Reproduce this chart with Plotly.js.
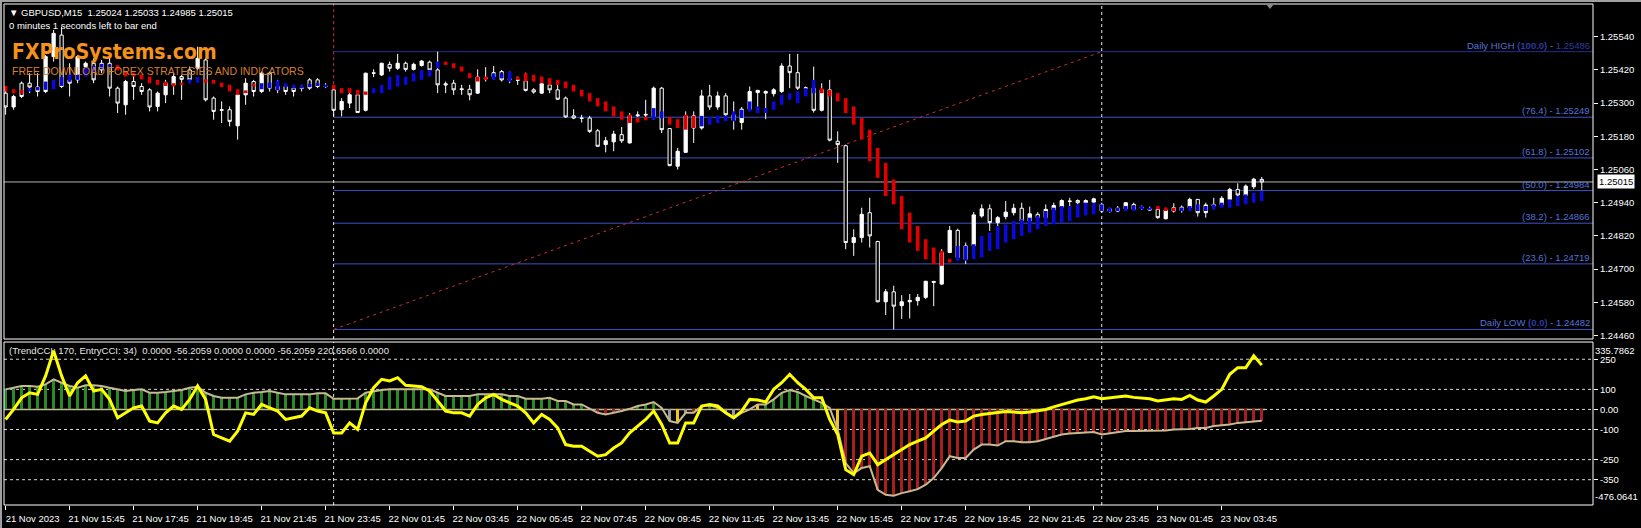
<!DOCTYPE html>
<html><head><meta charset="utf-8">
<script src="https://cdn.plot.ly/plotly-3.0.1.min.js"></script>
<style>html,body{margin:0;padding:0;background:#000;}#chart{width:1641px;height:528px;}</style>
</head><body><div id="chart"></div>
<script>
// ---------- DATA ----------
const headerText = '\u25BC\u00A0GBPUSD,M15\u00A0\u00A01.25024 1.25033 1.24985 1.25015';
const timerText = '0 minutes 1 seconds left to bar end';
const indicatorText = '(TrendCCI: 170, EntryCCI: 34)\u00A0\u00A00.0000 -56.2059 0.0000 0.0000 -56.2059 220.6566 0.0000';
const labelBars = [0,8,16,24,32,40,48,56,64,72,80,88,96,104,112,120,128,136,144,152];
const timeLabels = ['21 Nov 2023','21 Nov 15:45','21 Nov 17:45','21 Nov 19:45','21 Nov 21:45','21 Nov 23:45',
  '22 Nov 01:45','22 Nov 03:45','22 Nov 05:45','22 Nov 07:45','22 Nov 09:45','22 Nov 11:45','22 Nov 13:45',
  '22 Nov 15:45','22 Nov 17:45','22 Nov 19:45','22 Nov 21:45','22 Nov 23:45','23 Nov 01:45','23 Nov 03:45'];
const daySeparators = [41, 137];

const openP = [1.25336,1.25286,1.25372,1.25372,1.25358,1.25342,1.25468,1.25546,1.25384,1.25384,
 1.25432,1.25444,1.25420,1.25444,1.25354,1.25294,1.25378,1.25360,1.25348,1.25288,
 1.25330,1.25366,1.25396,1.25420,1.25426,1.25456,1.25318,1.25274,1.25276,1.25218,
 1.25330,1.25378,1.25342,1.25408,1.25348,1.25360,1.25354,1.25353,1.25384,1.25384,
 1.25362,1.25348,1.25276,1.25300,1.25330,1.25274,1.25408,1.25402,1.25440,1.25426,
 1.25444,1.25422,1.25436,1.25448,1.25420,1.25370,1.25372,1.25352,1.25350,1.25336,
 1.25389,1.25396,1.25414,1.25388,1.25384,1.25380,1.25348,1.25336,1.25366,1.25348,
 1.25318,1.25254,1.25246,1.25246,1.25200,1.25150,1.25160,1.25186,1.25156,1.25254,
 1.25257,1.25252,1.25354,1.25208,1.25072,1.25122,1.25254,1.25210,1.25326,1.25286,
 1.25326,1.25258,1.25230,1.25278,1.25338,1.25342,1.25334,1.25342,1.25434,1.25410,
 1.25353,1.25354,1.25274,1.25348,1.25162,1.25146,1.24796,1.24814,1.24904,1.24800,
 1.24582,1.24618,1.24568,1.24582,1.24586,1.24598,1.24652,1.24646,1.24760,1.24840,
 1.24736,1.24784,1.24892,1.24918,1.24868,1.24890,1.24904,1.24920,1.24874,1.24898,
 1.24886,1.24914,1.24924,1.24946,1.24948,1.24940,1.24942,1.24934,1.24918,1.24920,
 1.24918,1.24934,1.24921,1.24918,1.24916,1.24882,1.24922,1.24924,1.24922,1.24952,
 1.24904,1.24934,1.24932,1.24952,1.24988,1.24966,1.24998,1.25024];
const highP = [1.25348,1.25330,1.25378,1.25408,1.25408,1.25474,1.25564,1.25576,1.25444,1.25474,
 1.25450,1.25462,1.25456,1.25474,1.25360,1.25384,1.25408,1.25372,1.25354,1.25342,
 1.25384,1.25408,1.25402,1.25432,1.25504,1.25462,1.25324,1.25306,1.25288,1.25336,
 1.25390,1.25384,1.25414,1.25414,1.25384,1.25366,1.25366,1.25366,1.25390,1.25390,
 1.25372,1.25354,1.25318,1.25348,1.25342,1.25410,1.25422,1.25446,1.25450,1.25478,
 1.25450,1.25446,1.25456,1.25454,1.25486,1.25378,1.25384,1.25366,1.25366,1.25422,
 1.25430,1.25434,1.25420,1.25414,1.25396,1.25410,1.25354,1.25378,1.25384,1.25366,
 1.25324,1.25278,1.25258,1.25254,1.25206,1.25178,1.25200,1.25214,1.25264,1.25270,
 1.25312,1.25360,1.25358,1.25210,1.25138,1.25270,1.25270,1.25348,1.25366,1.25342,
 1.25336,1.25306,1.25286,1.25360,1.25348,1.25346,1.25354,1.25444,1.25478,1.25478,
 1.25360,1.25432,1.25372,1.25384,1.25198,1.25150,1.24844,1.24922,1.24958,1.24802,
 1.24628,1.24640,1.24606,1.24610,1.24610,1.24658,1.24658,1.24772,1.24856,1.24846,
 1.24796,1.24906,1.24934,1.24934,1.24892,1.24946,1.24936,1.24940,1.24926,1.24906,
 1.24934,1.24940,1.24952,1.24958,1.24952,1.24952,1.24958,1.24940,1.24922,1.24928,
 1.24942,1.24940,1.24930,1.24926,1.24926,1.24922,1.24938,1.24930,1.24958,1.24954,
 1.24940,1.24958,1.24964,1.24994,1.25010,1.25006,1.25030,1.25033];
const lowP = [1.25258,1.25276,1.25318,1.25336,1.25324,1.25336,1.25450,1.25354,1.25324,1.25372,
 1.25414,1.25372,1.25408,1.25324,1.25264,1.25258,1.25312,1.25330,1.25270,1.25270,
 1.25300,1.25330,1.25312,1.25372,1.25420,1.25306,1.25240,1.25228,1.25216,1.25168,
 1.25294,1.25324,1.25336,1.25342,1.25336,1.25330,1.25324,1.25342,1.25348,1.25354,
 1.25354,1.25252,1.25252,1.25282,1.25264,1.25270,1.25394,1.25398,1.25414,1.25420,
 1.25414,1.25418,1.25432,1.25414,1.25336,1.25336,1.25330,1.25330,1.25310,1.25334,
 1.25378,1.25384,1.25378,1.25372,1.25366,1.25342,1.25334,1.25334,1.25336,1.25312,
 1.25246,1.25242,1.25230,1.25192,1.25142,1.25122,1.25126,1.25156,1.25154,1.25250,
 1.25250,1.25240,1.25192,1.25072,1.25060,1.25120,1.25156,1.25204,1.25276,1.25276,
 1.25254,1.25204,1.25204,1.25276,1.25278,1.25242,1.25324,1.25336,1.25354,1.25348,
 1.25346,1.25266,1.25270,1.25162,1.25084,1.24772,1.24748,1.24796,1.24778,1.24580,
 1.24534,1.24482,1.24520,1.24522,1.24568,1.24592,1.24566,1.24642,1.24758,1.24736,
 1.24718,1.24782,1.24886,1.24838,1.24856,1.24880,1.24894,1.24868,1.24868,1.24874,
 1.24880,1.24906,1.24918,1.24928,1.24934,1.24934,1.24938,1.24904,1.24904,1.24906,
 1.24914,1.24910,1.24914,1.24910,1.24882,1.24880,1.24904,1.24904,1.24916,1.24890,
 1.24886,1.24916,1.24928,1.24950,1.24958,1.24958,1.24990,1.24985];
const closeP = [1.25286,1.25324,1.25324,1.25358,1.25342,1.25468,1.25552,1.25360,1.25372,1.25468,
 1.25444,1.25384,1.25444,1.25354,1.25300,1.25378,1.25360,1.25342,1.25286,1.25336,
 1.25372,1.25396,1.25386,1.25384,1.25462,1.25312,1.25270,1.25276,1.25234,1.25330,
 1.25372,1.25342,1.25408,1.25354,1.25360,1.25342,1.25342,1.25355,1.25354,1.25360,
 1.25360,1.25274,1.25306,1.25330,1.25266,1.25408,1.25409,1.25444,1.25426,1.25444,
 1.25422,1.25440,1.25452,1.25420,1.25366,1.25366,1.25348,1.25349,1.25330,1.25394,
 1.25391,1.25410,1.25384,1.25385,1.25383,1.25346,1.25340,1.25370,1.25348,1.25314,
 1.25250,1.25246,1.25245,1.25198,1.25144,1.25164,1.25188,1.25164,1.25254,1.25257,
 1.25259,1.25354,1.25204,1.25074,1.25126,1.25254,1.25210,1.25326,1.25286,1.25326,
 1.25258,1.25238,1.25278,1.25342,1.25346,1.25336,1.25348,1.25434,1.25410,1.25354,
 1.25355,1.25274,1.25348,1.25166,1.25150,1.24796,1.24814,1.24898,1.24820,1.24582,
 1.24618,1.24566,1.24582,1.24587,1.24598,1.24656,1.24655,1.24760,1.24840,1.24742,
 1.24784,1.24896,1.24918,1.24868,1.24886,1.24906,1.24920,1.24874,1.24900,1.24886,
 1.24916,1.24930,1.24948,1.24945,1.24940,1.24948,1.24954,1.24910,1.24909,1.24910,
 1.24940,1.24916,1.24923,1.24914,1.24886,1.24914,1.24910,1.24912,1.24952,1.24904,
 1.24932,1.24928,1.24956,1.24988,1.24968,1.25000,1.25025,1.25015];

const haOpen = [1.25362,1.25350,1.25348,1.25342,1.25346,1.25348,1.25350,1.25362,1.25378,1.25384,
 1.25396,1.25410,1.25422,1.25432,1.25437,1.25414,1.25410,1.25404,1.25396,1.25384,
 1.25378,1.25372,1.25374,1.25372,1.25374,1.25386,1.25384,1.25374,1.25366,1.25350,
 1.25346,1.25370,1.25350,1.25354,1.25346,1.25358,1.25353,1.25353,1.25358,1.25362,
 1.25358,1.25366,1.25354,1.25354,1.25348,1.25342,1.25336,1.25336,1.25348,1.25360,
 1.25366,1.25378,1.25384,1.25396,1.25426,1.25450,1.25444,1.25432,1.25408,1.25396,
 1.25396,1.25384,1.25390,1.25378,1.25396,1.25408,1.25402,1.25396,1.25390,1.25384,
 1.25378,1.25366,1.25348,1.25336,1.25318,1.25306,1.25288,1.25270,1.25258,1.25246,
 1.25250,1.25240,1.25246,1.25250,1.25242,1.25258,1.25254,1.25216,1.25222,1.25228,
 1.25234,1.25234,1.25246,1.25270,1.25264,1.25264,1.25276,1.25294,1.25312,1.25300,
 1.25324,1.25336,1.25354,1.25348,1.25336,1.25318,1.25288,1.25246,1.25204,1.25138,
 1.25084,1.25024,1.24964,1.24904,1.24856,1.24808,1.24778,1.24766,1.24736,1.24730,
 1.24730,1.24736,1.24742,1.24766,1.24772,1.24796,1.24808,1.24820,1.24832,1.24844,
 1.24856,1.24862,1.24868,1.24874,1.24886,1.24894,1.24898,1.24910,1.24906,1.24910,
 1.24910,1.24910,1.24916,1.24914,1.24928,1.24922,1.24922,1.24910,1.24910,1.24910,
 1.24910,1.24916,1.24922,1.24922,1.24928,1.24934,1.24940,1.24946];
const haClose = [1.25342,1.25336,1.25334,1.25354,1.25358,1.25378,1.25384,1.25394,1.25406,1.25402,
 1.25430,1.25434,1.25442,1.25439,1.25418,1.25396,1.25396,1.25386,1.25372,1.25366,
 1.25362,1.25360,1.25365,1.25386,1.25394,1.25374,1.25370,1.25358,1.25342,1.25330,
 1.25336,1.25360,1.25372,1.25374,1.25382,1.25372,1.25366,1.25365,1.25370,1.25372,
 1.25367,1.25350,1.25336,1.25336,1.25330,1.25330,1.25354,1.25366,1.25396,1.25402,
 1.25396,1.25408,1.25420,1.25420,1.25450,1.25438,1.25426,1.25414,1.25390,1.25378,
 1.25384,1.25408,1.25408,1.25414,1.25384,1.25378,1.25378,1.25372,1.25366,1.25366,
 1.25354,1.25342,1.25324,1.25306,1.25288,1.25270,1.25252,1.25240,1.25228,1.25230,
 1.25238,1.25282,1.25270,1.25222,1.25210,1.25204,1.25210,1.25254,1.25250,1.25254,
 1.25254,1.25270,1.25276,1.25306,1.25288,1.25282,1.25306,1.25330,1.25336,1.25342,
 1.25354,1.25384,1.25336,1.25324,1.25306,1.25264,1.25222,1.25168,1.25090,1.25030,
 1.24964,1.24934,1.24844,1.24796,1.24766,1.24736,1.24718,1.24712,1.24724,1.24784,
 1.24784,1.24790,1.24820,1.24832,1.24856,1.24862,1.24874,1.24880,1.24886,1.24892,
 1.24910,1.24922,1.24928,1.24928,1.24934,1.24940,1.24940,1.24934,1.24922,1.24922,
 1.24928,1.24930,1.24928,1.24922,1.24916,1.24910,1.24910,1.24922,1.24928,1.24934,
 1.24928,1.24934,1.24940,1.24952,1.24964,1.24970,1.24976,1.24982];

const trendCCI = [100,108,117,117,113,125,150,133,117,108,
 120,120,117,108,100,92,97,100,83,83,
 87,92,97,108,113,83,67,58,58,58,
 75,83,87,92,83,75,75,75,75,80,
 80,53,53,53,55,83,90,97,100,100,
 100,100,100,100,83,67,67,67,67,75,
 75,75,75,67,67,53,53,53,58,42,
 42,25,25,5,-17,-25,-17,-8,3,17,
 25,37,8,-58,-67,-17,-17,17,20,8,
 -17,-42,-17,0,25,25,50,83,97,87,
 67,50,33,8,-100,-267,-317,-292,-283,-400,
 -425,-430,-417,-408,-397,-375,-342,-292,-233,-242,
 -242,-200,-175,-175,-180,-158,-158,-163,-163,-158,
 -147,-137,-125,-120,-117,-113,-113,-125,-120,-113,
 -108,-108,-108,-108,-108,-105,-100,-100,-97,-93,
 -92,-83,-80,-75,-67,-63,-58,-56.2059];
const entryCCI = [-50,0,58,83,75,167,292,167,67,133,
 167,92,100,50,-42,-17,8,17,-58,-67,
 -17,17,0,50,117,50,-125,-142,-158,-108,
 -17,-25,25,8,-8,-50,-42,-33,8,-8,
 -17,-117,-117,-67,-100,33,108,150,142,158,
 120,117,113,92,42,-8,-17,-17,-33,25,
 58,75,50,33,17,-17,-67,-25,-50,-92,
 -175,-183,-183,-208,-233,-225,-192,-167,-117,-83,
 -50,-8,-75,-167,-167,-67,-67,17,25,17,
 -17,-42,-8,50,47,37,100,133,175,133,
 100,58,58,-50,-125,-300,-325,-233,-217,-275,
 -250,-225,-200,-175,-158,-142,-108,-75,-53,-63,
 -58,-33,-25,-20,-17,-10,-13,-17,-13,-8,
 0,13,25,37,47,53,63,53,58,63,
 67,60,58,53,42,47,53,50,70,47,
 37,67,100,175,208,208,267,220.6566];
// g = trend up, r = trend down, y = turning, n = neutral
const trendState = ('ggggggggggggggggggggggggggggggggggggggggggggggggggggggggggggggggggggggggg' +
  'yrrrrygggg' + 'nynrgggnnryy' + 'ggggggggg' + 'y' +
  'rrrrrrrrrrrrrrrrrrrrrrrrrrrrrrrrrrrrrrrrrrrrrrrrrrrrr').split('');

const fibLevels = [1.25486, 1.25249, 1.25102, 1.24984, 1.24866, 1.24719, 1.24482];
const fibRatios = ['100.0', '76.4', '61.8', '50.0', '38.2', '23.6', '0.0'];
const fibNames = ['Daily HIGH', '', '', '', '', '', 'Daily LOW'];
const fibStartBar = 41, fibEndBar = 137;
const bidPrice = 1.25015;
const priceTicks = [1.25540,1.25420,1.25300,1.25180,1.25060,1.24940,1.24820,1.24700,1.24580,1.24460];
const cciTicks = [250, 100, 0, -100, -250, -350];
const cciTickText = ['250', '100', '0.00', '-100', '-250', '-350'];
const cciMax = 335.7862, cciMin = -476.0641;
const priceMin = 1.244474, priceMax = 1.256582;

// ---------- DRAWING ----------
const FONT = 'Liberation Sans, Arial, sans-serif';
const idx = closeP.map((_, i) => i);
const stateColor = {g: '#2a8a26', r: '#a81f1f', y: '#f2c418', n: '#9a9a9a'};

function haSegments(up) {
  const xs = [], ys = [];
  idx.forEach(i => {
    const isUp = haClose[i] >= haOpen[i];
    if (isUp !== up) return;
    const mid = (haOpen[i] + haClose[i]) / 2;
    const half = Math.max(Math.abs(haClose[i] - haOpen[i]) / 2, 0.00003);
    xs.push(i, i, null); ys.push(mid - half, mid + half, null);
  });
  return {xs, ys};
}
const haUp = haSegments(true), haDn = haSegments(false);

const traces = [
  {type: 'candlestick', x: idx, open: openP, high: highP, low: lowP, close: closeP,
   xaxis: 'x', yaxis: 'y', hoverinfo: 'skip', whiskerwidth: 0,
   increasing: {line: {color: '#ffffff', width: 1}, fillcolor: '#ffffff'},
   decreasing: {line: {color: '#ffffff', width: 1}, fillcolor: '#000000'}},
  {type: 'scatter', mode: 'lines', x: haDn.xs, y: haDn.ys, xaxis: 'x', yaxis: 'y',
   line: {color: '#e00000', width: 3.6}, connectgaps: false, hoverinfo: 'skip'},
  {type: 'scatter', mode: 'lines', x: haUp.xs, y: haUp.ys, xaxis: 'x', yaxis: 'y',
   line: {color: '#0a0ad8', width: 3.6}, connectgaps: false, hoverinfo: 'skip'},
  {type: 'bar', x: idx, y: trendCCI, xaxis: 'x', yaxis: 'y2', width: 0.42,
   marker: {color: trendState.map(s => stateColor[s]), line: {width: 0}}, hoverinfo: 'skip'},
  {type: 'scatter', mode: 'lines', x: idx, y: trendCCI, xaxis: 'x', yaxis: 'y2',
   line: {color: '#c9b98f', width: 2}, hoverinfo: 'skip'},
  {type: 'scatter', mode: 'lines', x: idx, y: entryCCI, xaxis: 'x', yaxis: 'y2',
   line: {color: '#ffff00', width: 3}, hoverinfo: 'skip'}
];

const MAIN_BOTTOM = 0.3313, IND_TOP = 0.3253;
const shapes = [];
cciTicks.forEach(v => shapes.push({type: 'line', xref: 'paper', x0: 0, x1: 1, yref: 'y2', y0: v, y1: v,
  line: {color: '#d8d8d8', width: 1, dash: '3px,3px'}, layer: 'below'}));
shapes.push({type: 'line', xref: 'x', x0: -0.2, x1: idx.length - 0.6, yref: 'y2', y0: 0, y1: 0,
  line: {color: '#c9b98f', width: 1.5}, layer: 'below'});
fibLevels.forEach((v, k) => shapes.push({type: 'line', xref: 'x', x0: fibStartBar, x1: 198.4, yref: 'y', y0: v, y1: v,
  line: {color: k === 0 ? '#222c92' : '#3d52c4', width: 1}, layer: 'below'}));
shapes.push({type: 'line', xref: 'paper', x0: 0, x1: 1, yref: 'y', y0: bidPrice, y1: bidPrice,
  line: {color: '#b4b4b4', width: 1}, layer: 'below'});
shapes.push({type: 'line', xref: 'x', x0: fibStartBar, x1: fibEndBar, yref: 'y',
  y0: fibLevels[fibLevels.length - 1], y1: fibLevels[0],
  line: {color: '#c83030', width: 1, dash: '3px,4px'}, layer: 'below'});
daySeparators.forEach((b, k) => {
  shapes.push({type: 'line', xref: 'x', x0: b, x1: b, yref: 'y2 domain', y0: 0, y1: 1,
    line: {color: '#e8e8e8', width: 1, dash: '3px,3px'}, layer: 'below'});
  shapes.push({type: 'line', xref: 'x', x0: b, x1: b, yref: 'y', y0: priceMin, y1: k === 0 ? 1.25347 : priceMax,
    line: {color: '#e8e8e8', width: 1, dash: '3px,3px'}, layer: 'below'});
  if (k === 0) shapes.push({type: 'line', xref: 'x', x0: b, x1: b, yref: 'y', y0: 1.25347, y1: priceMax,
    line: {color: '#d03030', width: 1, dash: '3px,3px'}, layer: 'below'});
});
shapes.push({type: 'rect', xref: 'paper', yref: 'paper', x0: 0, x1: 1, y0: MAIN_BOTTOM, y1: 1,
  line: {color: '#ffffff', width: 1}, fillcolor: 'rgba(0,0,0,0)'});
shapes.push({type: 'rect', xref: 'paper', yref: 'paper', x0: 0, x1: 1, y0: 0, y1: IND_TOP,
  line: {color: '#ffffff', width: 1}, fillcolor: 'rgba(0,0,0,0)'});
shapes.push({type: 'path', xref: 'paper', yref: 'paper', path: 'M 0.7942 1 L 0.7992 1 L 0.7967 0.990 Z',
  fillcolor: '#8a8a8a', line: {width: 0}});
shapes.push({type: 'rect', xref: 'paper', yref: 'paper', x0: -4/1589, x1: -2/1589, y0: -23/501, y1: 1 + 4/501,
  fillcolor: '#a0a0a0', line: {width: 0}});
shapes.push({type: 'rect', xref: 'paper', yref: 'paper', x0: -4/1589, x1: 1 + 48/1589, y0: 1 + 2/501, y1: 1 + 4/501,
  fillcolor: '#a0a0a0', line: {width: 0}});

const annotations = [];
const small = {family: FONT, size: 9.5, color: '#ffffff'};
annotations.push({xref: 'paper', yref: 'paper', x: 0, y: 1, xanchor: 'left', yanchor: 'middle', xshift: 3, yshift: -8.7,
  text: headerText, showarrow: false, font: small});
annotations.push({xref: 'paper', yref: 'paper', x: 0, y: 1, xanchor: 'left', yanchor: 'middle', xshift: 3, yshift: -21.7,
  text: timerText, showarrow: false, font: small});
annotations.push({xref: 'paper', yref: 'paper', x: 0, y: 1, xanchor: 'left', yanchor: 'middle', xshift: 6, yshift: -47.5,
  text: '<b>FXProSystems.com</b>', showarrow: false,
  font: {family: "'Liberation Sans Narrow', 'DejaVu Sans Condensed', 'Liberation Sans', sans-serif", size: 21, color: '#f5921a'}});
annotations.push({xref: 'paper', yref: 'paper', x: 0, y: 1, xanchor: 'left', yanchor: 'middle', xshift: 6, yshift: -66.5,
  text: 'FREE DOWNLOAD FOREX STRATEGIES AND INDICATORS', showarrow: false,
  font: {family: FONT, size: 10.5, color: '#d8812c'}});
annotations.push({xref: 'paper', yref: 'paper', x: 0, y: IND_TOP, xanchor: 'left', yanchor: 'middle', xshift: 3, yshift: -8.3,
  text: indicatorText, showarrow: false, font: {family: FONT, size: 9.5, color: '#e6e6e6'}});
fibLevels.forEach((v, k) => {
  const dark = '#2b3aa0', light = '#5572d8';
  let t;
  if (fibNames[k]) {
    const numCol = k === 0 ? dark : light;
    t = fibNames[k] + ' <span style="color:' + dark + ';font-weight:bold">(' + fibRatios[k] + ')</span> - ' +
        '<span style="color:' + numCol + '">' + v.toFixed(5) + '</span>';
  } else {
    t = '(' + fibRatios[k] + ') - ' + v.toFixed(5);
  }
  annotations.push({xref: 'paper', yref: 'y', x: 1, y: v, xanchor: 'right', yanchor: 'bottom', xshift: -1, yshift: -1,
    text: t, showarrow: false, font: {family: FONT, size: 9.5, color: light}});
});
annotations.push({xref: 'paper', yref: 'y', x: 1, y: bidPrice, xanchor: 'left', yanchor: 'middle', xshift: 4,
  text: bidPrice.toFixed(5), showarrow: false, bgcolor: '#ffffff', borderpad: 1,
  font: {family: FONT, size: 9.5, color: '#000000'}});
annotations.push({xref: 'paper', yref: 'y2', x: 1, y: cciMax, xanchor: 'left', yanchor: 'middle', xshift: 0, yshift: -8,
  text: cciMax.toFixed(4), showarrow: false, font: small});
annotations.push({xref: 'paper', yref: 'y2', x: 1, y: cciMin, xanchor: 'left', yanchor: 'middle', xshift: 0, yshift: 8.3,
  text: cciMin.toFixed(4), showarrow: false, font: small});

const layout = {
  width: 1641, height: 528,
  margin: {l: 4, r: 48, t: 4, b: 23, pad: 0},
  paper_bgcolor: '#000000', plot_bgcolor: '#000000',
  showlegend: false, boxgap: 0.42, bargap: 0,
  xaxis: {range: [-0.2, 198.4], anchor: 'y2', rangeslider: {visible: false},
    tickmode: 'array', tickvals: labelBars, ticktext: timeLabels, ticks: 'outside', ticklen: 4,
    tickcolor: '#ffffff', tickfont: small, ticklabelshift: 27, ticklabelstandoff: 1,
    showgrid: false, zeroline: false, showline: false, fixedrange: true},
  yaxis: {domain: [MAIN_BOTTOM, 1], range: [priceMin, priceMax], side: 'right', anchor: 'x',
    tickmode: 'array', tickvals: priceTicks, ticktext: priceTicks.map(v => v.toFixed(5)),
    ticks: 'outside', ticklen: 4, tickcolor: '#ffffff', tickfont: small,
    showgrid: false, zeroline: false, showline: false, fixedrange: true},
  yaxis2: {domain: [0, IND_TOP], range: [cciMin, cciMax], side: 'right', anchor: 'x',
    tickmode: 'array', tickvals: cciTicks, ticktext: cciTickText,
    ticks: 'outside', ticklen: 4, tickcolor: '#ffffff', tickfont: small,
    showgrid: false, zeroline: false, showline: false, fixedrange: true},
  shapes: shapes, annotations: annotations
};

Plotly.newPlot('chart', traces, layout, {staticPlot: true, displayModeBar: false});
</script>
</body></html>
